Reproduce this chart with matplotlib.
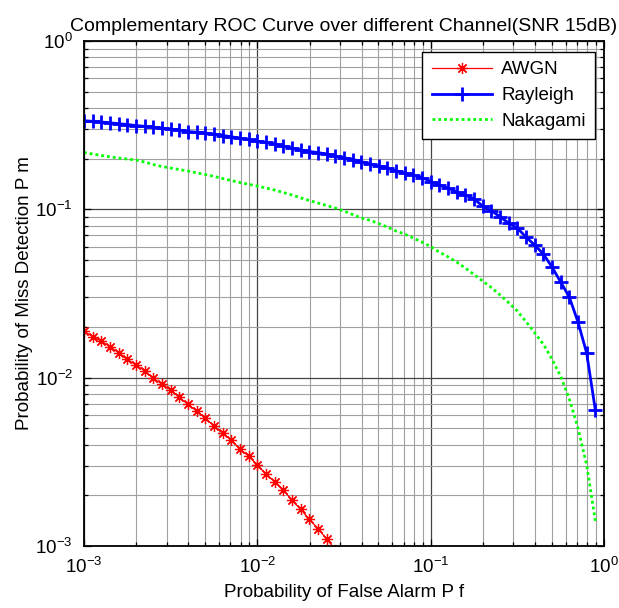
import matplotlib
matplotlib.use("Agg")
import matplotlib.pyplot as plt
from matplotlib.ticker import LogLocator, NullFormatter

plt.rcParams['font.family'] = ['Liberation Sans', 'DejaVu Sans']
plt.rcParams['mathtext.fontset'] = 'custom'
plt.rcParams['mathtext.rm'] = 'Liberation Sans'
plt.rcParams['mathtext.it'] = 'Liberation Sans:italic'
plt.rcParams['axes.unicode_minus'] = False

# Probability of false alarm (log-spaced points)
pf = [0.001, 0.001122, 0.001259, 0.001413, 0.001585, 0.001778, 0.001995, 0.002239,
      0.002512, 0.002818, 0.003162, 0.003548, 0.003981, 0.004467, 0.005012, 0.005623,
      0.006310, 0.007079, 0.007943, 0.008913, 0.01, 0.01122, 0.01259, 0.01413,
      0.01585, 0.01778, 0.01995, 0.02239, 0.02512, 0.02818, 0.03162, 0.03548,
      0.03981, 0.04467, 0.05012, 0.05623, 0.06310, 0.07079, 0.07943, 0.08913,
      0.1, 0.1122, 0.1259, 0.1413, 0.1585, 0.1778, 0.1995, 0.2239,
      0.2512, 0.2818, 0.3162, 0.3548, 0.3981, 0.4467, 0.5012, 0.5623,
      0.6310, 0.7079, 0.7943, 0.8913]

pm_awgn = [0.01891, 0.01750, 0.01650, 0.01526, 0.01406, 0.01284, 0.01189, 0.01099,
           0.00990, 0.00916, 0.00844, 0.00763, 0.00694, 0.00633, 0.00573, 0.00518,
           0.00467, 0.00426, 0.00376, 0.00342, 0.00303, 0.00267, 0.00241, 0.00215,
           0.00187, 0.00165, 0.00144, 0.00127, 0.00110, 0.00095]

pm_rayleigh = [0.3360, 0.3333, 0.3301, 0.3266, 0.3225, 0.3190, 0.3147, 0.3113,
               0.3075, 0.3041, 0.3000, 0.2959, 0.2899, 0.2871, 0.2840, 0.2790,
               0.2745, 0.2700, 0.2642, 0.2600, 0.2535, 0.2500, 0.2443, 0.2377,
               0.2307, 0.2251, 0.2205, 0.2175, 0.2125, 0.2073, 0.2026, 0.1977,
               0.1923, 0.1858, 0.1808, 0.1759, 0.1696, 0.1643, 0.1599, 0.1545,
               0.1463, 0.1397, 0.1338, 0.1267, 0.1216, 0.1151, 0.1047, 0.09808,
               0.09036, 0.08290, 0.07744, 0.06845, 0.06137, 0.05426, 0.04543, 0.03700,
               0.03011, 0.02139, 0.01400, 0.00642]

pm_nakagami = [0.2176, 0.2131, 0.2088, 0.2051, 0.2017, 0.1990, 0.1963, 0.1910,
               0.1845, 0.1796, 0.1759, 0.1723, 0.1688, 0.1647, 0.1609, 0.1570,
               0.1524, 0.1483, 0.1443, 0.1408, 0.1375, 0.1338, 0.1302, 0.1259,
               0.1216, 0.1170, 0.1128, 0.1090, 0.1053, 0.1018, 0.0977, 0.0931,
               0.0888, 0.0861, 0.0823, 0.0785, 0.0743, 0.0713, 0.0675, 0.0639,
               0.0601, 0.0557, 0.0522, 0.0486, 0.0448, 0.0410, 0.0375, 0.0343,
               0.0310, 0.0279, 0.0249, 0.0215, 0.0185, 0.0158, 0.0129, 0.0102,
               0.00746, 0.00502, 0.00303, 0.00141]

series_labels = ['AWGN', 'Rayleigh', 'Nakagami']
title_text = 'Complementary ROC Curve over different Channel(SNR 15dB)'
xlabel_text = 'Probability of False Alarm P f'
ylabel_text = 'Probability of Miss Detection P m'

fig = plt.figure(figsize=(6.19, 6.08), dpi=100)
ax = fig.add_axes([84 / 619, 62 / 608, 520 / 619, 505 / 608])

ax.plot(pf[:len(pm_awgn)], pm_awgn, color='#FF0000', lw=0.9,
        marker=(8, 2, 0), markersize=8, markeredgewidth=0.9, label=series_labels[0])
ax.plot(pf, pm_rayleigh, color='#0000FF', lw=2.0,
        marker='+', markersize=10, markeredgewidth=2.0, label=series_labels[1])
ax.plot(pf, pm_nakagami, color='#00FF00', lw=2.0,
        linestyle=(0, (1, 1.1)), label=series_labels[2])

ax.set_xscale('log')
ax.set_yscale('log')
ax.set_xlim(1e-3, 1)
ax.set_ylim(1e-3, 1)

ax.xaxis.set_major_locator(LogLocator(base=10, numticks=10))
ax.yaxis.set_major_locator(LogLocator(base=10, numticks=10))
ax.xaxis.set_minor_locator(LogLocator(base=10, subs=range(2, 10), numticks=20))
ax.yaxis.set_minor_locator(LogLocator(base=10, subs=range(2, 10), numticks=20))
ax.xaxis.set_minor_formatter(NullFormatter())
ax.yaxis.set_minor_formatter(NullFormatter())

ax.grid(True, which='major', color='#444444', lw=0.9, ls='-')
ax.grid(True, which='minor', color='#a0a0a0', lw=0.8, ls='-')
ax.set_axisbelow(True)

ax.tick_params(which='both', direction='in', top=True, right=True, labelsize=13.5,
               width=0.9, colors='black')
ax.tick_params(which='major', length=5, pad=8)
ax.tick_params(which='minor', length=3)
for s in ax.spines.values():
    s.set_linewidth(1.3)

ax.set_title(title_text, fontsize=14, pad=7)
ax.set_xlabel(xlabel_text, fontsize=13.5, labelpad=5)
ax.set_ylabel(ylabel_text, fontsize=13.5, labelpad=2)

leg = ax.legend(loc='upper right', bbox_to_anchor=(595 / 619, 1 - 52 / 608),
                bbox_transform=fig.transFigure, fontsize=13.5, fancybox=False,
                framealpha=1, edgecolor='black', handlelength=3.2, labelspacing=0.45,
                borderpad=0.5, handletextpad=0.5, borderaxespad=0)
leg.get_frame().set_linewidth(1.0)

fig.savefig('out.png', dpi=100)
